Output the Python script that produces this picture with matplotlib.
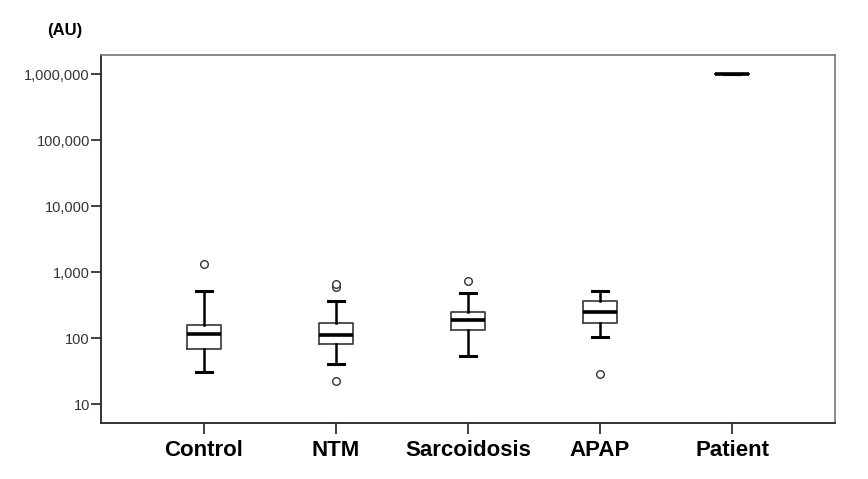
import numpy as np
import matplotlib as mpl
mpl.use('Agg')
import matplotlib.pyplot as plt
from matplotlib.ticker import FixedLocator, FuncFormatter, NullLocator


###############################################################################
groups = ['Control', 'NTM', 'Sarcoidosis', 'APAP', 'Patient']
whislo = [31, 40, 54, 102, 1000000]
q1 = [69, 82, 132, 167, 1000000]
med = [114, 112, 187, 248, 1000000]
q3 = [157, 170, 245, 367, 1000000]
whishi = [521, 360, 481, 510, 1000000]
fliers = [[1336], [22, 600, 650], [723], [28], []]
ytick_vals = [10, 100, 1000, 10000, 100000, 1000000]
filename = 'out.png'
###############################################################################

plt.rcParams['font.family'] = ['Liberation Sans', 'DejaVu Sans']

fig = plt.figure(figsize=(8.68, 4.79), dpi=100)
ax = fig.add_axes([0.1164, 0.1169, 0.962 - 0.1164, 0.885 - 0.1169])

stats = []
for i in range(len(groups)):
    stats.append(dict(label=groups[i], whislo=whislo[i], q1=q1[i], med=med[i],
                      q3=q3[i], whishi=whishi[i], fliers=fliers[i]))

ax.bxp(stats, positions=range(1, len(groups) + 1), widths=0.26,
       capwidths=0.12, showfliers=True,
       boxprops=dict(color='#444444', linewidth=1.3),
       medianprops=dict(color='black', linewidth=2.6),
       whiskerprops=dict(color='black', linewidth=1.8),
       capprops=dict(color='black', linewidth=2.2),
       flierprops=dict(marker='o', markersize=5.5, markerfacecolor='white',
                       markeredgecolor='#333333', markeredgewidth=1.0))

ax.set_yscale('log')
ax.set_ylim(10 ** 0.712, 10 ** 6.288)
ax.set_xlim(0.22, 5.78)

ax.yaxis.set_major_locator(FixedLocator(ytick_vals))
ax.yaxis.set_minor_locator(NullLocator())
ax.yaxis.set_major_formatter(FuncFormatter(lambda v, p: f'{v:,.0f}'))

ax.set_xticks(range(1, len(groups) + 1))
ax.set_xticklabels(groups, fontsize=16, fontweight='bold', color='black')
ax.tick_params(axis='x', length=8, width=1.3, color='#333333', pad=4)
ax.tick_params(axis='y', length=7, width=1.3, color='#333333',
               labelsize=10.5, labelcolor='#333333', pad=1)

for side in ['left', 'bottom']:
    ax.spines[side].set_color('#333333')
    ax.spines[side].set_linewidth(1.4)
for side in ['top', 'right']:
    ax.spines[side].set_color('#777777')
    ax.spines[side].set_linewidth(1.2)

fig.text(65 / 868, 1 - 30 / 479, '(AU)', fontsize=12, fontweight='bold',
         ha='center', va='center')

plt.savefig(filename, dpi=100)
plt.close()
